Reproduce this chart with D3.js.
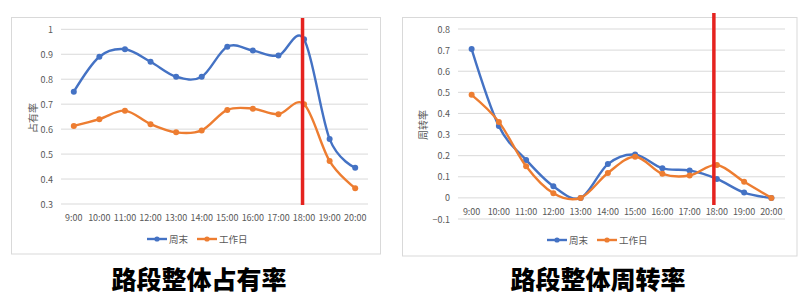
<!DOCTYPE html>
<html lang="zh">
<head>
<meta charset="UTF-8">
<title>路段整体占有率 / 周转率</title>
<style>
  body { margin: 0; background: #fff; }
  svg text { font-family: "Noto Sans CJK SC", "Noto Sans", sans-serif; }
</style>
</head>
<body>
<svg id="chart" width="808" height="308"></svg>
<script src="https://d3js.org/d3.v7.min.js"></script>
<script>
// categories
const hours = ["9:00","10:00","11:00","12:00","13:00","14:00","15:00","16:00","17:00","18:00","19:00","20:00"];
const seriesNames = ["周末", "工作日"];

// occupancy (占有率)
const occWeekend = [0.75, 0.89, 0.92, 0.87, 0.81, 0.81, 0.93, 0.915, 0.895, 0.96, 0.56, 0.445];
const occWorkday = [0.613, 0.64, 0.674, 0.62, 0.587, 0.595, 0.677, 0.682, 0.66, 0.70, 0.472, 0.363];
const occTicks = [0.3, 0.4, 0.5, 0.6, 0.7, 0.8, 0.9, 1];

// turnover (周转率)
const turnWeekend = [0.705, 0.34, 0.18, 0.055, 0, 0.16, 0.205, 0.14, 0.13, 0.09, 0.025, 0];
const turnWorkday = [0.488, 0.36, 0.15, 0.022, 0, 0.118, 0.195, 0.114, 0.106, 0.156, 0.076, 0];
const turnTicks = [-0.1, 0, 0.1, 0.2, 0.3, 0.4, 0.5, 0.6, 0.7, 0.8];

const markHour = "18:00";
const colors = ["#4472C4", "#ED7D31"];

const svg = d3.select("#chart");

function drawPanel(opt) {
  const g = svg.append("g");

  // panel frame
  g.append("rect")
    .attr("x", opt.box[0]).attr("y", opt.box[1])
    .attr("width", opt.box[2]).attr("height", opt.box[3])
    .attr("fill", "#fff").attr("stroke", "#d9d9d9").attr("stroke-width", 1);

  const x = d3.scalePoint().domain(hours).range(opt.xRange).padding(0.5);
  const y = d3.scaleLinear().domain(opt.yDomain).range(opt.yRange);

  // gridlines
  g.selectAll(".grid").data(opt.ticks).join("line")
    .attr("x1", opt.xRange[0]).attr("x2", opt.xRange[1])
    .attr("y1", d => y(d)).attr("y2", d => y(d))
    .attr("stroke", "#d9d9d9").attr("stroke-width", 1);

  // y tick labels
  g.selectAll(".ylab").data(opt.ticks).join("text")
    .attr("x", opt.yLabelX).attr("y", d => y(d))
    .attr("text-anchor", "end").attr("dominant-baseline", "central")
    .attr("font-size", 9).attr("fill", "#595959")
    .text(d => d3.format("~g")(d));

  // x tick labels
  g.selectAll(".xlab").data(hours).join("text")
    .attr("x", d => x(d)).attr("y", opt.xLabelY)
    .attr("text-anchor", "middle").attr("dominant-baseline", "central")
    .attr("font-size", 9).attr("fill", "#595959")
    .text(d => d);

  // y axis title
  g.append("text")
    .attr("transform", `translate(${opt.titlePos[0]},${opt.titlePos[1]}) rotate(-90)`)
    .attr("text-anchor", "middle").attr("dominant-baseline", "central")
    .attr("font-size", 10).attr("fill", "#595959")
    .text(opt.yTitle);

  // smooth lines, like Excel
  const line = d3.line()
    .x((d, i) => x(hours[i]))
    .y(d => y(d))
    .curve(d3.curveCatmullRom.alpha(0));

  opt.series.forEach((vals, k) => {
    g.append("path").datum(vals)
      .attr("d", line)
      .attr("fill", "none").attr("stroke", colors[k]).attr("stroke-width", 2.4)
      .attr("stroke-linejoin", "round");
    g.selectAll(".dot" + k).data(vals).join("circle")
      .attr("cx", (d, i) => x(hours[i])).attr("cy", d => y(d))
      .attr("r", 3).attr("fill", colors[k]);
  });

  // red marker line at 18:00
  g.append("line")
    .attr("x1", x(markHour) + opt.redShift).attr("x2", x(markHour) + opt.redShift)
    .attr("y1", opt.redY[0]).attr("y2", opt.redY[1])
    .attr("stroke", "#E5231F").attr("stroke-width", 3.5);

  // legend
  let lx = opt.legendX;
  seriesNames.forEach((name, k) => {
    g.append("line")
      .attr("x1", lx).attr("x2", lx + 20)
      .attr("y1", opt.legendY).attr("y2", opt.legendY)
      .attr("stroke", colors[k]).attr("stroke-width", 2.4);
    g.append("circle").attr("cx", lx + 10).attr("cy", opt.legendY).attr("r", 2.6).attr("fill", colors[k]);
    g.append("text")
      .attr("x", lx + 22).attr("y", opt.legendY)
      .attr("dominant-baseline", "central")
      .attr("font-size", 9.5).attr("fill", "#595959")
      .text(name);
    lx += 50;
  });

  // caption below panel
  svg.append("text")
    .attr("x", opt.captionX).attr("y", 278)
    .attr("text-anchor", "middle").attr("dominant-baseline", "central")
    .attr("font-size", 25).attr("font-weight", 900).attr("fill", "#000")
    .text(opt.caption);
}

drawPanel({
  box: [11.5, 17.5, 369, 236.5],
  xRange: [61, 368],
  yDomain: [0.3, 1],
  yRange: [204, 29.3],
  ticks: occTicks,
  yLabelX: 53,
  xLabelY: 217,
  yTitle: "占有率",
  titlePos: [32, 118],
  series: [occWeekend, occWorkday],
  redShift: -1.5,
  redY: [18, 205],
  legendX: 147,
  legendY: 239,
  caption: "路段整体占有率",
  captionX: 199
});

drawPanel({
  box: [402.5, 17.5, 394.5, 238.5],
  xRange: [458, 785],
  yDomain: [-0.1, 0.8],
  yRange: [219, 29],
  ticks: turnTicks,
  yLabelX: 450,
  xLabelY: 211,
  yTitle: "周转率",
  titlePos: [422, 125],
  series: [turnWeekend, turnWorkday],
  redShift: -3,
  redY: [13, 205],
  legendX: 547,
  legendY: 240,
  caption: "路段整体周转率",
  captionX: 598
});
</script>
</body>
</html>
